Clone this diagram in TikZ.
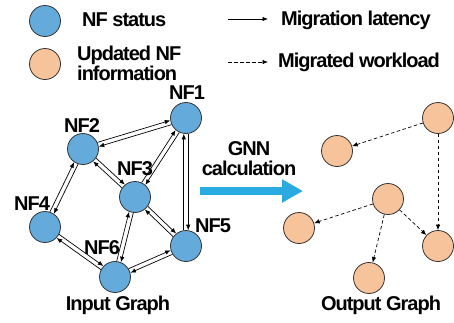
\documentclass[tikz,border=0pt]{standalone}
\usepackage{fontspec}
\setmainfont{Liberation Sans}[LetterSpace=-5]
\usepackage{tikz}
\usetikzlibrary{arrows.meta, calc}
\definecolor{nfblue}{HTML}{64ABDC}
\definecolor{nforange}{HTML}{F7C39B}
\definecolor{gnnblue}{HTML}{29ABE2}
\tikzset{
  nf/.style={circle, draw=black!80, line width=0.8pt, fill=nfblue,
             minimum size=31pt, inner sep=0pt},
  upd/.style={nf, fill=nforange},
  txt/.style={font=\fontsize{20}{20}\selectfont\bfseries, inner sep=0pt, align=left},
  lat/.style={-{Latex[length=5.5pt,width=4.5pt]}, line width=0.7pt},
  bi/.style={lat, shorten <=15.8pt, shorten >=15.8pt},
  mig/.style={-{Latex[length=5.5pt,width=4.5pt]}, line width=0.7pt,
              dash pattern=on 3.5pt off 2.5pt},
  gnn/.style={-{Triangle[length=21pt,width=22pt]}, line width=8pt, draw=gnnblue}
}
% two arrows side by side, one each way
\newcommand{\biedge}[2]{%
  \draw[bi] ($(#1)!2.2pt!90:(#2)$) -- ($(#2)!2.2pt!-90:(#1)$);
  \draw[bi] ($(#2)!2.2pt!90:(#1)$) -- ($(#1)!2.2pt!-90:(#2)$);
}
\begin{document}
\begin{tikzpicture}[x=1pt, y=-1pt]
  \useasboundingbox (0,0) rectangle (454,322);
  % legend
  \node[nf] (keyst) at (45,21) {};
  \node[txt, anchor=west] (keysttxt) at (82,20) {NF status};
  \node[upd] (keyup) at (45,64) {};
  \node[txt, anchor=west] (keyuptxt) at (77,63) {Updated NF\\information};
  \coordinate (la) at (228,19);
  \coordinate (lb) at (268,19);
  \coordinate (ma) at (228,62);
  \coordinate (mb) at (268,62);
  \draw[lat] (la) -- (lb);
  \draw[mig] (ma) -- (mb);
  \node[txt, anchor=west] (keylat) at (281,20) {Migration latency};
  \node[txt, anchor=west] (keymig) at (278,62) {Migrated workload};
  % input graph
  \node[nf] (nf1) at (186,118) {};
  \node[nf] (nf2) at (83,149) {};
  \node[nf] (nf3) at (135,197) {};
  \node[nf] (nf4) at (45,227) {};
  \node[nf] (nf5) at (186,246) {};
  \node[nf] (nf6) at (115,277) {};
  \node[txt] (lnf1) at (187,93) {NF1};
  \node[txt] (lnf2) at (82,126) {NF2};
  \node[txt] (lnf3) at (135,169) {NF3};
  \node[txt] (lnf4) at (32,204) {NF4};
  \node[txt] (lnf5) at (213,226) {NF5};
  \node[txt] (lnf6) at (102,248) {NF6};
  \node[txt] (ingraph) at (118,305) {Input Graph};
  \biedge{nf1}{nf2}
  \biedge{nf2}{nf3}
  \biedge{nf2}{nf4}
  \biedge{nf1}{nf3}
  \biedge{nf1}{nf5}
  \biedge{nf3}{nf5}
  \biedge{nf3}{nf6}
  \biedge{nf4}{nf6}
  \biedge{nf6}{nf5}
  % GNN step
  \coordinate (ga) at (200,191);
  \coordinate (gb) at (303,191);
  \draw[gnn] (ga) -- (gb);
  \node[txt, align=center] (gnntxt) at (249,159) {GNN\\calculation};
  % output graph
  \node[upd] (o1) at (438,118) {};
  \node[upd] (o2) at (337,151) {};
  \node[upd] (o3) at (388,199) {};
  \node[upd] (o4) at (299,228) {};
  \node[upd] (o5) at (438,246) {};
  \node[upd] (o6) at (369,278) {};
  \node[txt] (outgraph) at (381,305) {Output Graph};
  \draw[mig] (o1) -- (o2);
  \draw[mig] (o1) -- (o5);
  \draw[mig] (o3) -- (o4);
  \draw[mig] (o3) -- (o5);
  \draw[mig] (o3) -- (o6);
\end{tikzpicture}
\end{document}
